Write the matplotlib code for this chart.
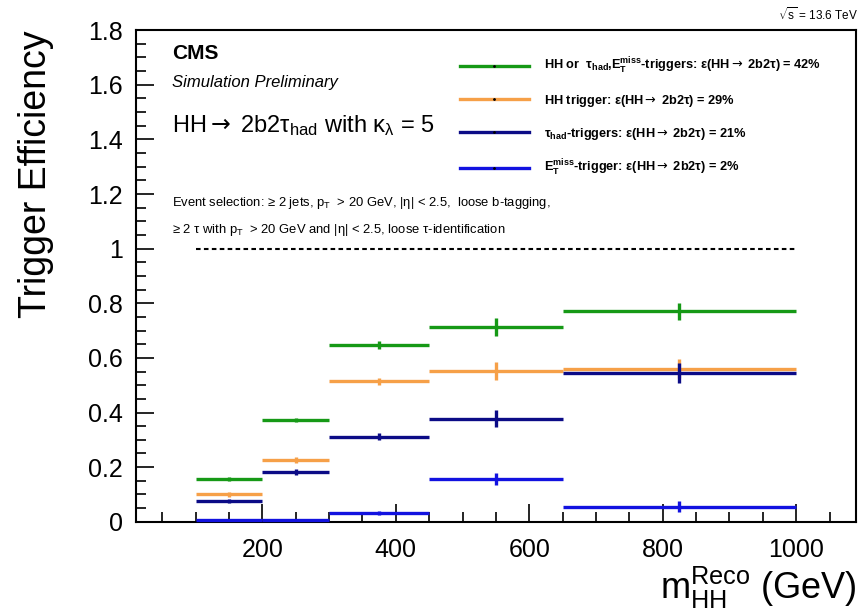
import matplotlib
matplotlib.use('Agg')
import matplotlib.pyplot as plt
import matplotlib.ticker as mticker
from matplotlib.lines import Line2D
import numpy as np

# binned trigger efficiencies vs reco m_HH
bin_edges = [100, 200, 300, 450, 650, 1000]
eff_or  = [0.157, 0.372, 0.648, 0.713, 0.770]
err_or  = [0.007, 0.008, 0.014, 0.032, 0.030]
eff_hh  = [0.100, 0.226, 0.514, 0.553, 0.560]
err_hh  = [0.008, 0.010, 0.013, 0.033, 0.035]
eff_tau = [0.077, 0.183, 0.311, 0.378, 0.545]
err_tau = [0.007, 0.010, 0.013, 0.030, 0.038]
eff_met = [0.006, 0.006, 0.032, 0.157, 0.055]
err_met = [0.002, 0.003, 0.008, 0.023, 0.020]

ARROW = r'$\mathsf{\rightarrow}$'
labels = [
    r'HH or  τ$_{\mathbf{had}}$,$\mathbf{E}_{\mathbf{T}}^{\mathbf{miss}}$-triggers: ε(HH' + ARROW + ' 2b2τ) = 42%',
    'HH trigger: ε(HH' + ARROW + ' 2b2τ) = 29%',
    r'τ$_{\mathbf{had}}$-triggers: ε(HH' + ARROW + ' 2b2τ) = 21%',
    r'$\mathbf{E}_{\mathbf{T}}^{\mathbf{miss}}$-trigger: ε(HH' + ARROW + ' 2b2τ) = 2%',
]

GREEN = '#169916'
ORANGE = '#f6a048'
NAVY = '#0b0b86'
BLUE = '#1212e0'

plt.rcParams.update({
    'font.family': ['Liberation Sans', 'DejaVu Sans'],
    'mathtext.fontset': 'custom',
    'mathtext.rm': 'Liberation Sans',
    'mathtext.it': 'Liberation Sans:italic',
    'mathtext.bf': 'Liberation Sans:bold',
    'mathtext.sf': 'DejaVu Sans',
    'mathtext.default': 'regular',
})

edges = np.array(bin_edges, dtype=float)
centers = 0.5 * (edges[:-1] + edges[1:])
halfw = 0.5 * np.diff(edges)

fig = plt.figure(figsize=(8.64, 6.16), dpi=100)
ax = fig.add_axes([0.157, 0.153, 0.834, 0.798])

series = [(eff_or, err_or, GREEN), (eff_hh, err_hh, ORANGE),
          (eff_tau, err_tau, NAVY), (eff_met, err_met, BLUE)]
handles = []
for vals, errs, col in series:
    ax.errorbar(centers, vals, xerr=halfw, yerr=errs, fmt='none',
                ecolor=col, elinewidth=2.4, capsize=0, clip_on=False, zorder=3)
    handles.append(Line2D([0], [0], color=col, lw=2.4, marker='.', ms=2,
                          mfc='k', mec='k'))

# reference line at 100%
ax.hlines(1.0, bin_edges[0], bin_edges[-1], colors='black',
          linestyles=(0, (2.2, 1.6)), linewidth=1.5)

ax.set_xlim(10, 1090)
ax.set_ylim(0, 1.8)
ax.xaxis.set_major_locator(mticker.MultipleLocator(200))
ax.xaxis.set_minor_locator(mticker.MultipleLocator(50))
ax.yaxis.set_major_locator(mticker.MultipleLocator(0.2))
ax.yaxis.set_minor_locator(mticker.MultipleLocator(0.05))
ax.yaxis.set_major_formatter(mticker.FuncFormatter(lambda v, p: f'{v:g}'))
ax.tick_params(which='both', direction='in', top=False, right=False,
               labelsize=18, width=1.2)
ax.tick_params(which='major', length=13)
ax.tick_params(which='minor', length=7)
ax.tick_params(axis='y', pad=9)
ax.tick_params(axis='x', pad=12)
for sp in ax.spines.values():
    sp.set_linewidth(1.5)

ax.set_ylabel('Trigger Efficiency', fontsize=27, loc='top', labelpad=25)
ax.set_xlabel(r'm$_{HH}^{Reco}$ (GeV)', fontsize=26, loc='right', labelpad=2)

ax.text(0.05, 0.953, 'CMS', transform=ax.transAxes, fontsize=15,
        fontweight='bold', va='center')
ax.text(0.05, 0.894, 'Simulation Preliminary', transform=ax.transAxes,
        fontsize=12, style='italic', va='center')
ax.text(0.05, 0.807, r'HH' + ARROW + r' 2b2τ$_{had}$ with κ$_{λ}$ = 5',
        transform=ax.transAxes, fontsize=17, va='center')
ax.text(0.05, 0.648,
        r'Event selection: ≥ 2 jets, p$_{T}$  > 20 GeV, |η| < 2.5,  loose b-tagging,',
        transform=ax.transAxes, fontsize=9.4, va='center')
ax.text(0.05, 0.593,
        r'≥ 2 τ with p$_{T}$  > 20 GeV and |η| < 2.5, loose τ-identification',
        transform=ax.transAxes, fontsize=9.4, va='center')

ax.legend(handles, labels, loc='upper left', bbox_to_anchor=(0.45, 0.947),
          frameon=False, prop={'weight': 'bold', 'size': 9.2},
          handlelength=5.4, handletextpad=1.2, labelspacing=1.3,
          borderpad=0, borderaxespad=0)

fig.text(0.993, 0.976, r'$\sqrt{s}$ = 13.6 TeV', fontsize=8.5,
         ha='right', va='center')

fig.savefig('out.png', dpi=100)
